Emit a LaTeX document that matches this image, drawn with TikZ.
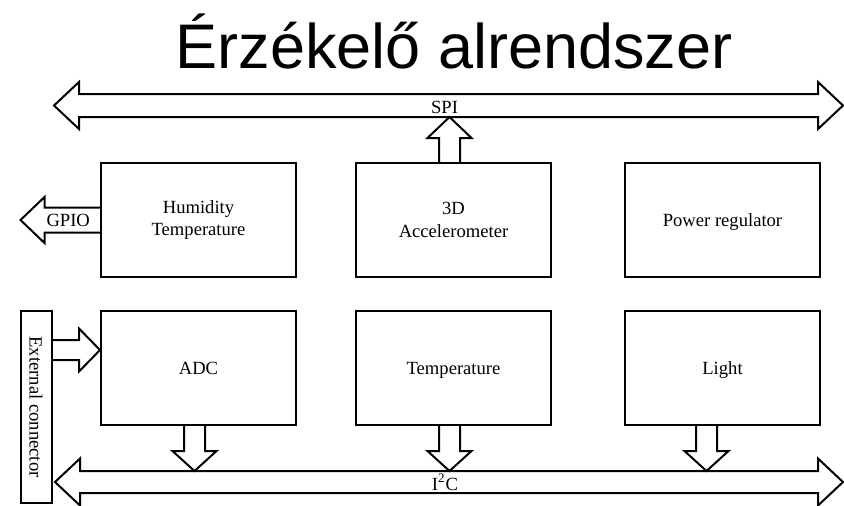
\documentclass[tikz,border=0pt]{standalone}
\usepackage{fontspec}
\setmainfont{Liberation Serif}
\newfontfamily\titlefont{Liberation Sans}
\usetikzlibrary{positioning,calc}

\tikzset{
  % hollow block arrow: half shaft width, half head width, head length
  fatarrow/.style n args={3}{
    to path={
      ($(\tikztostart)!#1!90:(\tikztotarget)$)
      -- ($(\tikztotarget)!#3!(\tikztostart)!#1!90:(\tikztotarget)$)
      -- ($(\tikztotarget)!#3!(\tikztostart)!#2!90:(\tikztotarget)$)
      -- (\tikztotarget)
      -- ($(\tikztotarget)!#3!(\tikztostart)!#2!-90:(\tikztotarget)$)
      -- ($(\tikztotarget)!#3!(\tikztostart)!#1!-90:(\tikztotarget)$)
      -- ($(\tikztostart)!#1!-90:(\tikztotarget)$)
    },
  },
  % same, with a head at both ends
  fatbus/.style n args={3}{
    to path={
      (\tikztostart)
      -- ($(\tikztostart)!#3!(\tikztotarget)!#2!90:(\tikztotarget)$)
      -- ($(\tikztostart)!#3!(\tikztotarget)!#1!90:(\tikztotarget)$)
      -- ($(\tikztotarget)!#3!(\tikztostart)!#1!90:(\tikztotarget)$)
      -- ($(\tikztotarget)!#3!(\tikztostart)!#2!90:(\tikztotarget)$)
      -- (\tikztotarget)
      -- ($(\tikztotarget)!#3!(\tikztostart)!#2!-90:(\tikztotarget)$)
      -- ($(\tikztotarget)!#3!(\tikztostart)!#1!-90:(\tikztotarget)$)
      -- ($(\tikztostart)!#3!(\tikztotarget)!#1!-90:(\tikztotarget)$)
      -- ($(\tikztostart)!#3!(\tikztotarget)!#2!-90:(\tikztotarget)$)
      -- cycle
    },
  },
}

\begin{document}
\begin{tikzpicture}[x=0.5pt,y=-0.5pt]
  \useasboundingbox (0,0) rectangle (844,505);

  % title
  \node [anchor=base,font=\titlefont\fontsize{31.5}{36}\selectfont] (title)
    at (454,68) {Érzékelő alrendszer};

  \begin{scope}[
    every node/.style={
      rectangle,
      draw,
      line width=1pt,
      minimum width=97.5pt,
      minimum height=57pt,
      align=center,
      font=\fontsize{9.3}{11.2}\selectfont,
    },
    oneline/.style={
      text height=0.66em,
      text depth=0pt,
    },
    ]
    % top row
    \node (hum) at (198.5,220) {Humidity\\Temperature};
    \node [right=29pt of hum] (acc) {3D\\Accelerometer};
    \node [right=36pt of acc,oneline] (pwr) {Power regulator};

    % bottom row
    \node [below=16pt of hum,oneline] (adc) {ADC};
    \node [below=16pt of acc,oneline] (temp) {Temperature};
    \node [below=16pt of pwr,oneline] (light) {Light};

    % connector on the left edge
    \node [left=23.75pt of adc.north west,anchor=north east,
      minimum width=15.5pt,minimum height=96pt] (ext) {};
    \node [draw=none,rotate=-90,minimum width=0pt,minimum height=0pt]
      (extlabel) at (ext) {External connector};
  \end{scope}

  % bus ends
  \coordinate (spiW) at (54,105.5);
  \coordinate (spiE) at (843,105.5);
  \coordinate (spibot) at (0,117);
  \coordinate (i2cW) at (55,482);
  \coordinate (i2cE) at (843,482);
  \coordinate (i2ctop) at (0,471);

  % ports
  \coordinate (accout) at ([xshift=-2pt]acc.north);
  \coordinate (adcout) at ([xshift=-2pt]adc.south);
  \coordinate (tempout) at ([xshift=-2pt]temp.south);
  \coordinate (lightout) at ([xshift=-8pt]light.south);
  \coordinate (adcin) at ([yshift=-20pt]adc.north west);
  \coordinate (gpiotip) at ([xshift=-39.75pt]hum.west);

  \begin{scope}[
    every path/.style={
      line width=1pt,
      line join=miter,
    },
    every node/.style={
      font=\fontsize{9.3}{11.2}\selectfont,
    },
    ]
    % SPI
    \draw [fatbus={5.75pt}{11.75pt}{12.5pt}] (spiW) to (spiE);
    \node (spi) at ($(spiW)!0.5!(spiE)+(-2pt,-1pt)$) {SPI};
    \draw [fatarrow={5.25pt}{11pt}{10.5pt}] (accout) to (accout |- spibot);

    % I2C
    \draw [fatbus={5.5pt}{11.75pt}{12.5pt}] (i2cW) to (i2cE);
    \node (i2c) at ($(i2cW)!0.5!(i2cE)+(-2pt,0)$) {I\textsuperscript{2}C};
    \draw [fatarrow={5.25pt}{11pt}{10pt}] (adcout) to (adcout |- i2ctop);
    \draw [fatarrow={5.25pt}{11pt}{10pt}] (tempout) to (tempout |- i2ctop);
    \draw [fatarrow={5.25pt}{11pt}{10pt}] (lightout) to (lightout |- i2ctop);

    % GPIO
    \draw [fatarrow={6.25pt}{11.5pt}{12pt}] (hum.west) to (gpiotip);
    \node (gpio) at ($(hum.west)!0.4!(gpiotip)$) {GPIO};

    % external connector to ADC
    \draw [fatarrow={5pt}{10.75pt}{10.5pt}] (ext.east |- adcin) to (adcin);
  \end{scope}
\end{tikzpicture}
\end{document}
